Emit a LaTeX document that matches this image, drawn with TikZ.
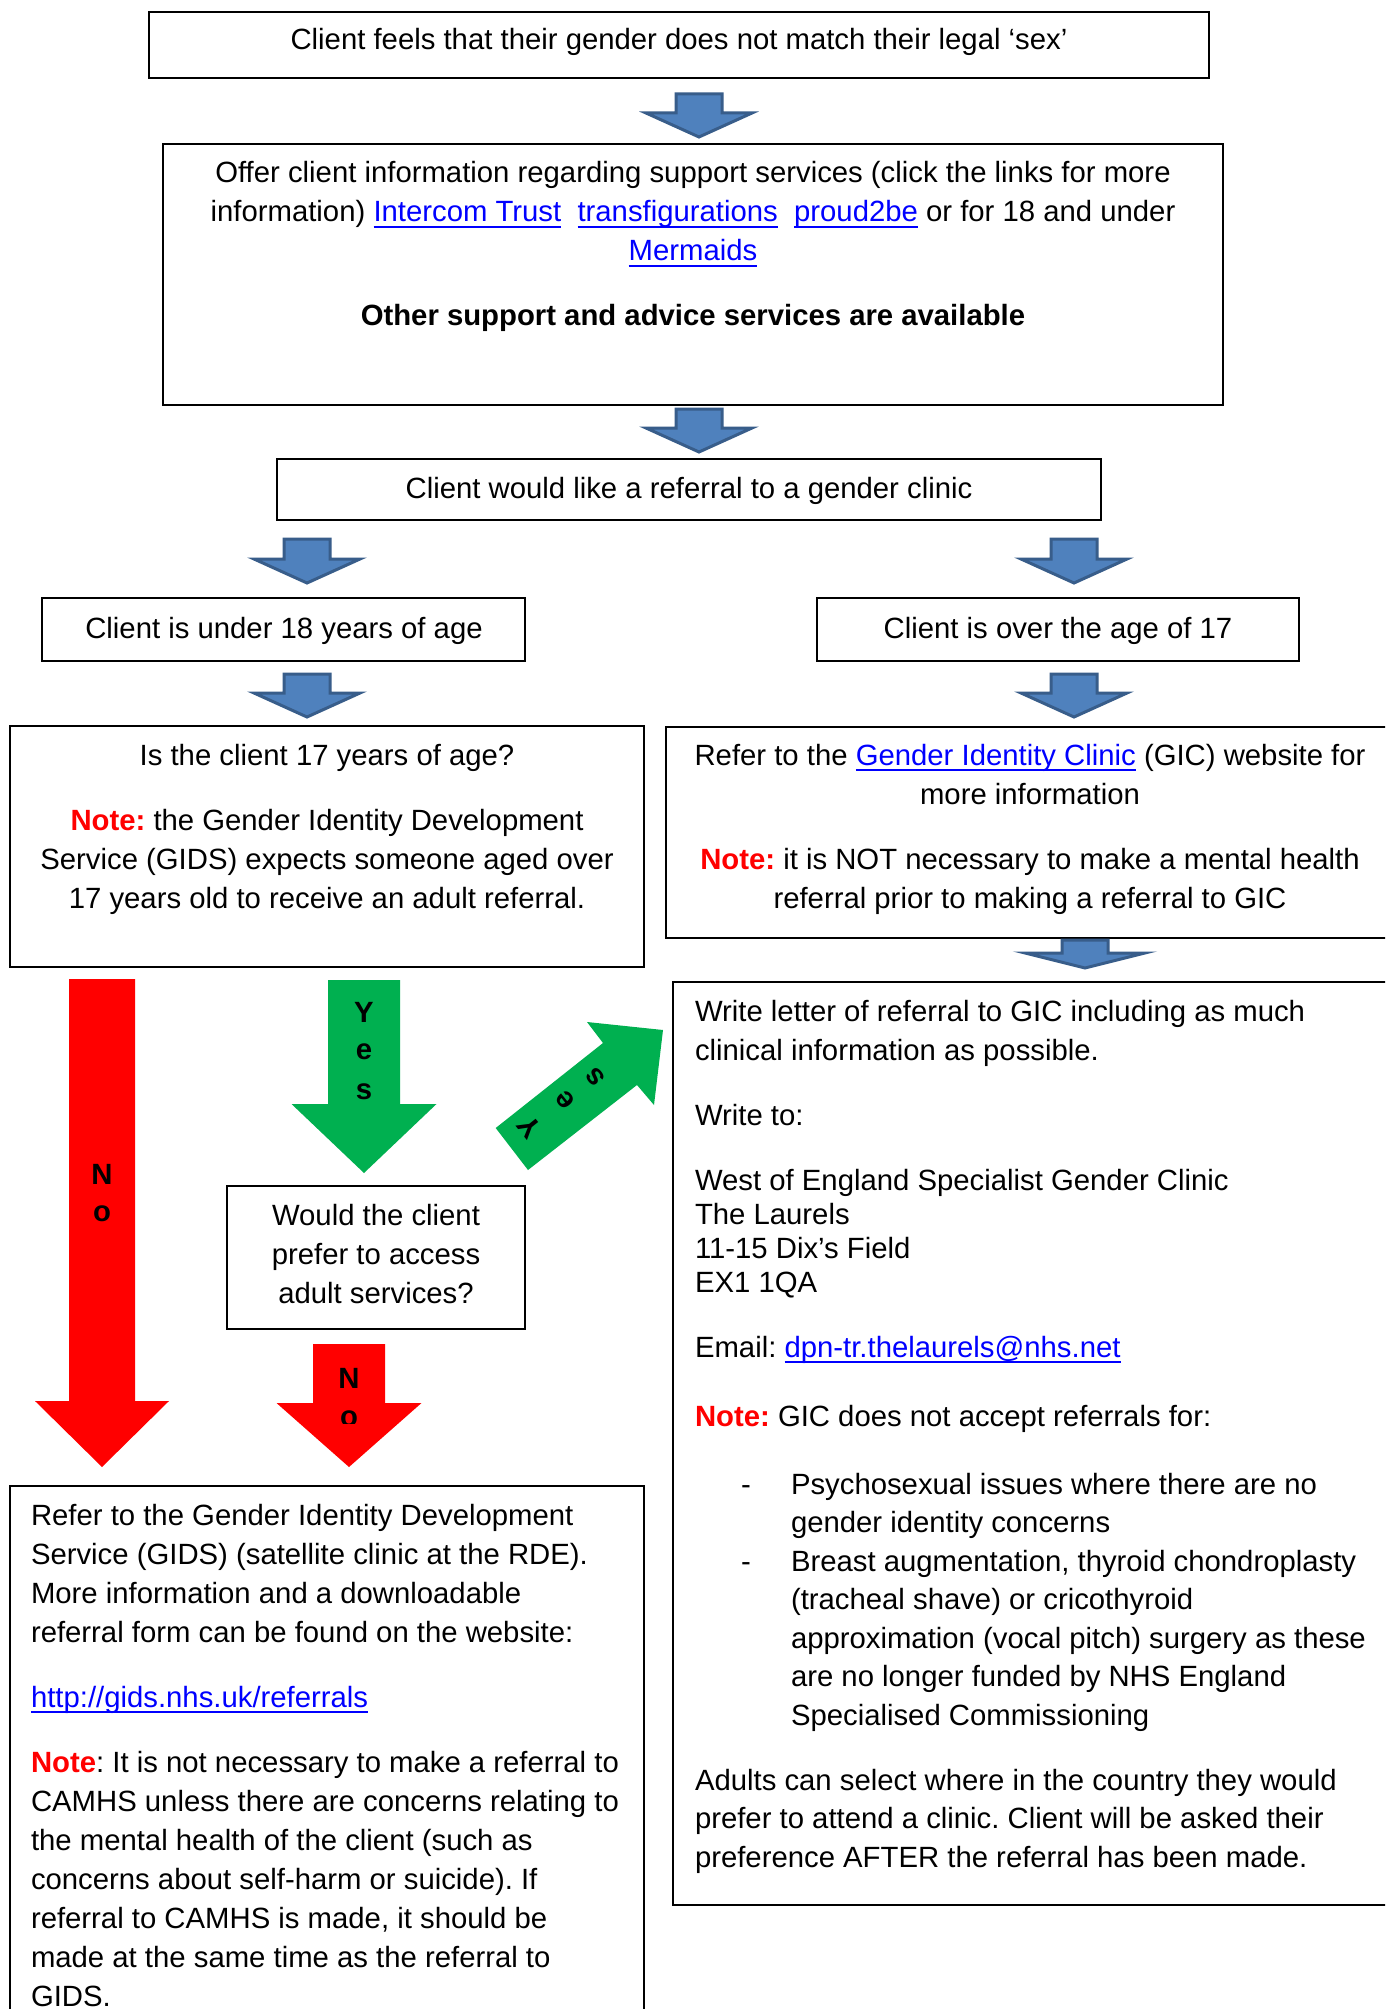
\documentclass[tikz,border=0pt]{standalone}
\usepackage{fontspec}
\setmainfont{Liberation Sans}
\frenchspacing
\definecolor{bfill}{HTML}{4F81BD}
\definecolor{bline}{HTML}{385D8A}
\definecolor{gr}{HTML}{00B050}
\definecolor{rd}{HTML}{FF0000}
\definecolor{lb}{HTML}{0000FF}
\newcommand\lnk[1]{\textcolor{lb}{\setbox0\hbox{#1}\rlap{\rule[-6pt]{\wd0}{2.2pt}}\box0}}
\newcommand\nt[1]{\textcolor{rd}{\bfseries #1}}
% #1 style, #2 x centre, #3 y top, #4 shaft width, #5 head width, #6 total length, #7 head length
\newcommand\dnarrow[7]{%
  \path[#1] ({#2-#4/2},#3) -- ({#2+#4/2},#3) -- ({#2+#4/2},{#3+#6-#7}) -- ({#2+#5/2},{#3+#6-#7})
    -- (#2,{#3+#6}) -- ({#2-#5/2},{#3+#6-#7}) -- ({#2-#4/2},{#3+#6-#7}) -- cycle;}
\tikzset{
  box/.style={draw=black, line width=2.5pt, anchor=north west, inner sep=0pt, outer sep=0pt},
  txt/.style={inner sep=0pt, outer sep=0pt, font=\fontsize{29.3}{39}\selectfont},
  txtb/.style={inner sep=0pt, outer sep=0pt, font=\fontsize{29.3}{38.5}\selectfont},
  letter/.style={inner sep=0pt, outer sep=0pt, font=\fontsize{29.3}{39}\selectfont\bfseries},
  blockarrow/.style={fill=bfill, draw=bline, line width=3pt, line join=miter},
}
\begin{document}
\begin{tikzpicture}[x=1pt,y=-1pt]
\useasboundingbox (0,0) rectangle (1385,2009);
\fill[white] (0,0) rectangle (1385,2009);
\clip (0,0) rectangle (1385,2009);

% ---------- boxes ----------
\node[box, minimum width=1060pt, minimum height=66pt]  (b1)  at (149,12) {};
\node[box, minimum width=1060pt, minimum height=261pt] (b2)  at (163,144) {};
\node[box, minimum width=824pt,  minimum height=61pt]  (b3)  at (277,459) {};
\node[box, minimum width=483pt,  minimum height=63pt]  (b4)  at (42,598) {};
\node[box, minimum width=482pt,  minimum height=63pt]  (b5)  at (817,598) {};
\node[box, minimum width=634pt,  minimum height=241pt] (b6)  at (10,726) {};
\node[box, minimum width=740pt,  minimum height=211pt] (b7)  at (666,727) {};
\node[box, minimum width=740pt,  minimum height=923pt] (b8)  at (673,982) {};
\node[box, minimum width=298pt,  minimum height=143pt] (b9)  at (227,1186) {};
\node[box, minimum width=634pt,  minimum height=560pt] (b10) at (10,1486) {};

% ---------- texts ----------
\node[txt, anchor=base] (t1) at (679,50) {Client feels that their gender does not match their legal ‘sex’};

\node[txt, anchor=base] (t2) at (693,183) {\begin{tabular}[t]{@{}c@{}}
Offer client information regarding support services (click the links for more\\
information) \lnk{Intercom Trust}\ \ \lnk{transfigurations}\ \ \lnk{proud2be} or for 18 and under\\
\lnk{Mermaids}\\[26pt]
\bfseries Other support and advice services are available
\end{tabular}};

\node[txt, anchor=base] (t3) at (689,498) {Client would like a referral to a gender clinic};
\node[txt, anchor=base] (t4) at (284,638) {Client is under 18 years of age};
\node[txt, anchor=base] (t5) at (1058,638) {Client is over the age of 17};

\node[txt, anchor=base] (t6) at (327,765) {\begin{tabular}[t]{@{}c@{}}
Is the client 17 years of age?\\[26pt]
\nt{Note:} the Gender Identity Development\\
Service (GIDS) expects someone aged over\\
17 years old to receive an adult referral.
\end{tabular}};

\node[txt, anchor=base] (t7) at (1030,765) {\begin{tabular}[t]{@{}c@{}}
Refer to the \lnk{Gender Identity Clinic} (GIC) website for\\
more information\\[26pt]
\nt{Note:} it is NOT necessary to make a mental health\\
referral prior to making a referral to GIC
\end{tabular}};

\node[txt, anchor=base] (t9) at (376,1225) {\begin{tabular}[t]{@{}c@{}}
Would the client\\
prefer to access\\
adult services?
\end{tabular}};

\node[txt, anchor=base west] (t8a) at (695,1021) {\begin{tabular}[t]{@{}l@{}}
Write letter of referral to GIC including as much\\
clinical information as possible.\\[26pt]
Write to:\\[26pt]
West of England Specialist Gender Clinic\\[-5pt]
The Laurels\\[-5pt]
11-15 Dix’s Field\\[-5pt]
EX1 1QA\\[26pt]
Email: \lnk{dpn-tr.thelaurels@nhs.net}\\[30pt]
\nt{Note:} GIC does not accept referrals for:
\end{tabular}};

\node[txtb, anchor=base] (d1) at (746,1494) {-};
\node[txtb, anchor=base] (d2) at (746,1571) {-};
\node[txtb, anchor=base west] (t8b) at (791,1494) {\begin{tabular}[t]{@{}l@{}}
Psychosexual issues where there are no\\
gender identity concerns\\
Breast augmentation, thyroid chondroplasty\\
(tracheal shave) or cricothyroid\\
approximation (vocal pitch) surgery as these\\
are no longer funded by NHS England\\
Specialised Commissioning
\end{tabular}};

\node[txtb, anchor=base west] (t8c) at (695,1790) {\begin{tabular}[t]{@{}l@{}}
Adults can select where in the country they would\\
prefer to attend a clinic. Client will be asked their\\
preference AFTER the referral has been made.
\end{tabular}};

\node[txt, anchor=base west] (t10) at (31,1525) {\begin{tabular}[t]{@{}l@{}}
Refer to the Gender Identity Development\\
Service (GIDS) (satellite clinic at the RDE).\\
More information and a downloadable\\
referral form can be found on the website:\\[26pt]
\lnk{http://gids.nhs.uk/referrals}\\[26pt]
\nt{Note}: It is not necessary to make a referral to\\
CAMHS unless there are concerns relating to\\
the mental health of the client (such as\\
concerns about self-harm or suicide). If\\
referral to CAMHS is made, it should be\\
made at the same time as the referral to\\
GIDS.
\end{tabular}};

% ---------- block arrows ----------
\dnarrow{blockarrow}{699}{94}{46}{106}{43}{24}
\dnarrow{blockarrow}{699}{409}{46}{106}{43}{24}
\dnarrow{blockarrow}{307}{539}{46}{106}{44}{24}
\dnarrow{blockarrow}{1074}{539}{46}{106}{44}{24}
\dnarrow{blockarrow}{307}{674}{46}{106}{43}{24}
\dnarrow{blockarrow}{1074}{674}{46}{106}{43}{24}
\dnarrow{blockarrow}{1085}{940}{46}{120}{28}{15}

\dnarrow{fill=rd}{102}{979}{66}{134}{488}{66}
\dnarrow{fill=gr}{364}{980}{72}{145}{193}{69}
\dnarrow{fill=rd}{349}{1344}{72}{145}{123}{64}
\fill[gr] (495.7,1128) -- (603,1043) -- (587,1022) -- (663,1030) -- (654,1105) -- (637,1085) -- (528,1170) -- cycle;

% ---------- arrow letters ----------
\node[letter] (n1) at (102,1174) {N};
\node[letter] (n2) at (102,1214) {o};
\node[letter] (y1) at (364,1012) {Y};
\node[letter] (y2) at (364,1052) {e};
\node[letter] (y3) at (364,1092) {s};
\node[letter] (m1) at (349,1378) {N};
\begin{scope}
\clip (300,1390) rectangle (400,1423);
\node[letter] (m2) at (349,1419) {o};
\end{scope}
\node[letter, rotate=128.5] (z1) at (530,1127) {Y};
\node[letter, rotate=128.5] (z2) at (565,1100) {e};
\node[letter, rotate=128.5] (z3) at (595,1077) {s};
\end{tikzpicture}
\end{document}
